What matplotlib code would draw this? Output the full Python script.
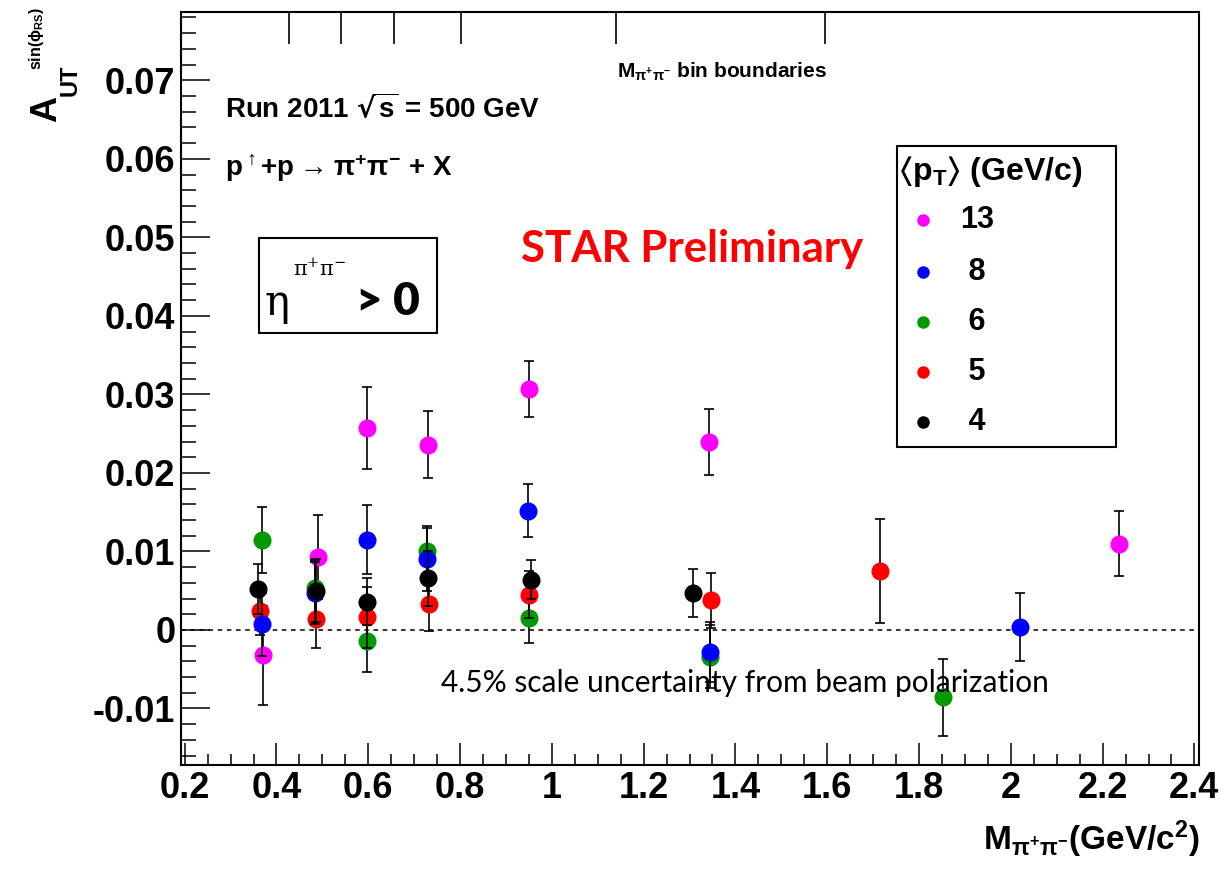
import numpy as np
import matplotlib.pyplot as plt
from matplotlib.patches import Rectangle
from matplotlib.lines import Line2D

plt.rcParams['font.family'] = ['Liberation Sans', 'DejaVu Sans']
plt.rcParams['font.weight'] = 'bold'
plt.rcParams['mathtext.default'] = 'regular'

# <pT> = 13 GeV/c
x13 = [0.371, 0.491, 0.597, 0.731, 0.951, 1.343, 2.236]
y13 = [-0.0032, 0.0093, 0.0257, 0.0236, 0.0307, 0.0239, 0.0110]
e13 = [0.0063, 0.0053, 0.0052, 0.0043, 0.0036, 0.0042, 0.0041]
# <pT> = 8 GeV/c
x8 = [0.368, 0.484, 0.597, 0.729, 0.947, 1.345, 2.021]
y8 = [0.0007, 0.0047, 0.0115, 0.0090, 0.0152, -0.0028, 0.0004]
e8 = [0.0040, 0.0040, 0.0044, 0.0040, 0.0034, 0.0038, 0.0043]
# <pT> = 6 GeV/c
x6 = [0.368, 0.484, 0.597, 0.729, 0.951, 1.345, 1.853]
y6 = [0.0115, 0.0054, -0.0014, 0.0100, 0.0015, -0.0034, -0.0086]
e6 = [0.0042, 0.0035, 0.0040, 0.0033, 0.0031, 0.0040, 0.0049]
# <pT> = 5 GeV/c
x5 = [0.364, 0.486, 0.597, 0.733, 0.951, 1.346, 1.716]
y5 = [0.0024, 0.0014, 0.0016, 0.0033, 0.0045, 0.0038, 0.0075]
e5 = [0.0030, 0.0037, 0.0039, 0.0034, 0.0030, 0.0035, 0.0066]
# <pT> = 4 GeV/c
x4 = [0.360, 0.486, 0.597, 0.731, 0.954, 1.308]
y4 = [0.0052, 0.0050, 0.0036, 0.0066, 0.0064, 0.0047]
e4 = [0.0032, 0.0040, 0.0030, 0.0035, 0.0025, 0.0030]

bin_edges = [0.427, 0.541, 0.656, 0.802, 1.140, 1.595]

xtick_vals = [0.2, 0.4, 0.6, 0.8, 1.0, 1.2, 1.4, 1.6, 1.8, 2.0, 2.2, 2.4]
xtick_labels = ['0.2', '0.4', '0.6', '0.8', '1', '1.2', '1.4', '1.6', '1.8', '2', '2.2', '2.4']
ytick_vals = [-0.01, 0.0, 0.01, 0.02, 0.03, 0.04, 0.05, 0.06, 0.07]
ytick_labels = ['-0.01', '0', '0.01', '0.02', '0.03', '0.04', '0.05', '0.06', '0.07']

W, H = 1229, 874


def fx(px):
    return px / W


def fy(py):
    return 1 - py / H


fig = plt.figure(figsize=(W / 100, H / 100), dpi=100)
ax = fig.add_axes([181 / W, (H - 765) / H, 1018 / W, 753 / H])

series = [
    (x13, y13, e13, '#ff00ff', '13'),
    (x6, y6, e6, '#009a00', ' 6'),
    (x5, y5, e5, '#ff0000', ' 5'),
    (x8, y8, e8, '#0000ff', ' 8'),
    (x4, y4, e4, '#000000', ' 4'),
]
for i, (xs, ys, es, col, lab) in enumerate(series):
    ax.errorbar(xs, ys, yerr=es, fmt='o', color=col, ms=12, mec=col,
                ecolor='black', elinewidth=1.2, capsize=3.5, capthick=1.2,
                zorder=3 + i)

ax.axhline(0, color='black', lw=1.1, ls=(0, (3, 3)), zorder=2)
ax.vlines(bin_edges, 1 - 32 / 753, 1, transform=ax.get_xaxis_transform(),
          color='black', lw=1.2)

ax.set_xlim(0.192, 2.41)
ax.set_ylim(-0.0172, 0.0787)
ax.set_xticks(xtick_vals, xtick_labels)
ax.set_yticks(ytick_vals, ytick_labels)
ax.set_xticks(np.arange(0.2, 2.41, 0.05), minor=True)
ax.set_yticks(np.arange(-0.016, 0.0787, 0.002), minor=True)
ax.tick_params(which='both', direction='in', top=False, right=False, width=1.1,
               labelsize=26)
ax.tick_params(axis='x', which='major', length=16, pad=4)
ax.tick_params(axis='x', which='minor', length=8)
ax.tick_params(axis='y', which='major', length=21, pad=4)
ax.tick_params(axis='y', which='minor', length=11)
for s in ax.spines.values():
    s.set_linewidth(1.5)

# y axis title
fig.text(fx(47), fy(122), 'A', rotation=90, ha='center', va='bottom', fontsize=26)
fig.text(fx(70), fy(96), 'UT', rotation=90, ha='center', va='bottom', fontsize=17)
fig.text(fx(36), fy(70), r'sin($\phi_{RS}$)', rotation=90, ha='center',
         va='bottom', fontsize=11.5)

# x axis title
fig.text(fx(1200), fy(850), r'M$_{\pi^{+}\pi^{-}}$(GeV/c$^{2}$)', ha='right',
         va='baseline', fontsize=24)

fig.text(fx(225), fy(118), r'Run 2011 $\sqrt{s}$ = 500 GeV', fontsize=20,
         va='baseline')
fig.text(fx(225), fy(176), r'p$^{\uparrow}$+p$\rightarrow$$\pi^{+}\pi^{-}$ + X',
         fontsize=20, va='baseline')
fig.text(fx(617), fy(78), r'M$_{\pi^{+}\pi^{-}}$ bin boundaries', fontsize=15,
         va='baseline')

fig.text(fx(521), fy(262), 'STAR Preliminary', color='red', fontsize=31.5,
         family='Lato', weight='bold', va='baseline')
fig.text(fx(441), fy(692), '4.5% scale uncertainty from beam polarization',
         fontsize=21.5, family='Lato', weight='normal', va='baseline')

# eta cut box
fig.add_artist(Rectangle((fx(259), fy(333)), (437 - 259) / W, (333 - 238) / H,
                         transform=fig.transFigure, fill=False, lw=1.5,
                         ec='black'))
fig.text(fx(264), fy(315), 'η', fontsize=30, family='DejaVu Serif',
         weight='normal', va='baseline')
fig.text(fx(293), fy(276), r'$\pi^{+}\pi^{-}$', fontsize=15, va='baseline',
         family='DejaVu Serif', weight='normal')
fig.text(fx(356), fy(315), '> 0', fontsize=33, family='Lato', weight='heavy',
         va='baseline')

# legend
fig.add_artist(Rectangle((fx(897), fy(447)), (1116 - 897) / W, (447 - 146) / H,
                         transform=fig.transFigure, fill=False, lw=1.5,
                         ec='black'))
fig.text(fx(898), fy(180), r'$\langle$p$_{T}\rangle$ (GeV/c)', fontsize=23,
         va='baseline')
leg_y = [220, 272, 322, 372, 422]
for (xs, ys, es, col, lab), py in zip(
        [series[0], series[3], series[1], series[2], series[4]], leg_y):
    fig.add_artist(Line2D([fx(923)], [fy(py)], marker='o', ms=8, color=col,
                          mec=col, transform=fig.transFigure))
    fig.text(fx(960), fy(py), lab, fontsize=22, va='center')

fig.savefig('out.png', dpi=100)
